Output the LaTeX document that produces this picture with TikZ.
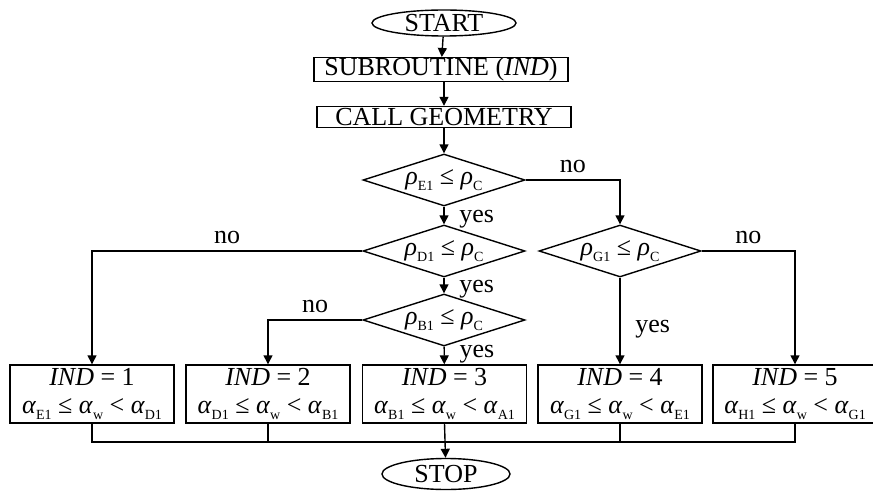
\documentclass[tikz,border=0pt]{standalone}
\usepackage{fontspec}
\setmainfont{Liberation Serif}
\usepackage{tikz}
\usetikzlibrary{arrows.meta, shapes.geometric}
\newcommand{\gsub}[2]{\textit{#1}\raisebox{-0.5ex}{\fontsize{7}{7}\selectfont #2}}

\tikzset{
  term/.style={ellipse, draw, line width=0.7pt, inner sep=0pt, minimum width=72pt, minimum height=13pt},
  proc/.style={rectangle, draw, line width=0.7pt, inner sep=0pt, minimum width=127pt, minimum height=10.5pt},
  test/.style={diamond, draw, line width=0.7pt, inner sep=0pt, aspect=3.1, minimum width=81pt, minimum height=26pt},
  result/.style={rectangle, draw, line width=0.7pt, align=center, inner sep=0pt, minimum width=82pt, minimum height=29pt},
  arr/.style={line width=0.7pt, -{Triangle[length=4.5pt, width=4.5pt]}},
  wire/.style={line width=0.7pt}
}

\begin{document}
\begin{tikzpicture}[x=0.5pt, y=-0.5pt, font=\fontsize{13}{14}\selectfont]
\useasboundingbox (0,0) rectangle (873,492);
\node[term] (start) at (444,23) {START};
\node[proc] (sub) at (441,69.5) {SUBROUTINE (\textit{IND})};
\node[proc] (geo) at (444,117) {CALL GEOMETRY};
\node[test] (e1) at (444,180) {\gsub{ρ}{E1} ≤ \gsub{ρ}{C}};
\node[test] (d1) at (444,251) {\gsub{ρ}{D1} ≤ \gsub{ρ}{C}};
\node[test] (b1) at (444,320) {\gsub{ρ}{B1} ≤ \gsub{ρ}{C}};
\node[test] (g1) at (620,251) {\gsub{ρ}{G1} ≤ \gsub{ρ}{C}};
\node[result] (r1) at (92,394) {\textit{IND} = 1\\\gsub{α}{E1} ≤ \gsub{α}{w} < \gsub{α}{D1}};
\node[result] (r2) at (268,394) {\textit{IND} = 2\\\gsub{α}{D1} ≤ \gsub{α}{w} < \gsub{α}{B1}};
\node[result] (r3) at (444.5,394) {\textit{IND} = 3\\\gsub{α}{B1} ≤ \gsub{α}{w} < \gsub{α}{A1}};
\node[result] (r4) at (620,394) {\textit{IND} = 4\\\gsub{α}{G1} ≤ \gsub{α}{w} < \gsub{α}{E1}};
\node[result] (r5) at (795,394) {\textit{IND} = 5\\\gsub{α}{H1} ≤ \gsub{α}{w} < \gsub{α}{G1}};
\node[term, minimum width=64pt, minimum height=15.5pt] (stop) at (446,474) {STOP};
\coordinate (bus) at (444.5,442);

\draw[arr] (start) -- (sub);
\draw[arr] (sub.south -| geo) -- (geo);
\draw[arr] (geo) -- (e1);
\draw[arr] (e1) -- node[right, xshift=4pt, yshift=-2pt] {yes} (d1);
\draw[arr] (d1) -- node[right, xshift=4pt, yshift=-2pt] {yes} (b1);
\draw[arr] (b1) -- node[right, xshift=4pt, yshift=0.5pt] {yes} (r3);
\draw[arr] (e1.east) -| node[pos=0.25, above] {no} (g1.north);
\draw[arr] (d1.west) -| node[pos=0.25, above] {no} (r1.north);
\draw[arr] (b1.west) -| node[pos=0.25, above] {no} (r2.north);
\draw[arr] (g1.east) -| node[pos=0.25, above] {no} (r5.north);
\draw[arr] (g1.south) -- node[right, xshift=4pt, yshift=-4pt] {yes} (r4.north);

\draw[wire] (r1.south) |- (bus) -| (r5.south);
\draw[wire] (r2.south) -- (r2.south |- bus);
\draw[wire] (r4.south) -- (r4.south |- bus);
\draw[arr] (r3.south) -- (stop);
\end{tikzpicture}
\end{document}
